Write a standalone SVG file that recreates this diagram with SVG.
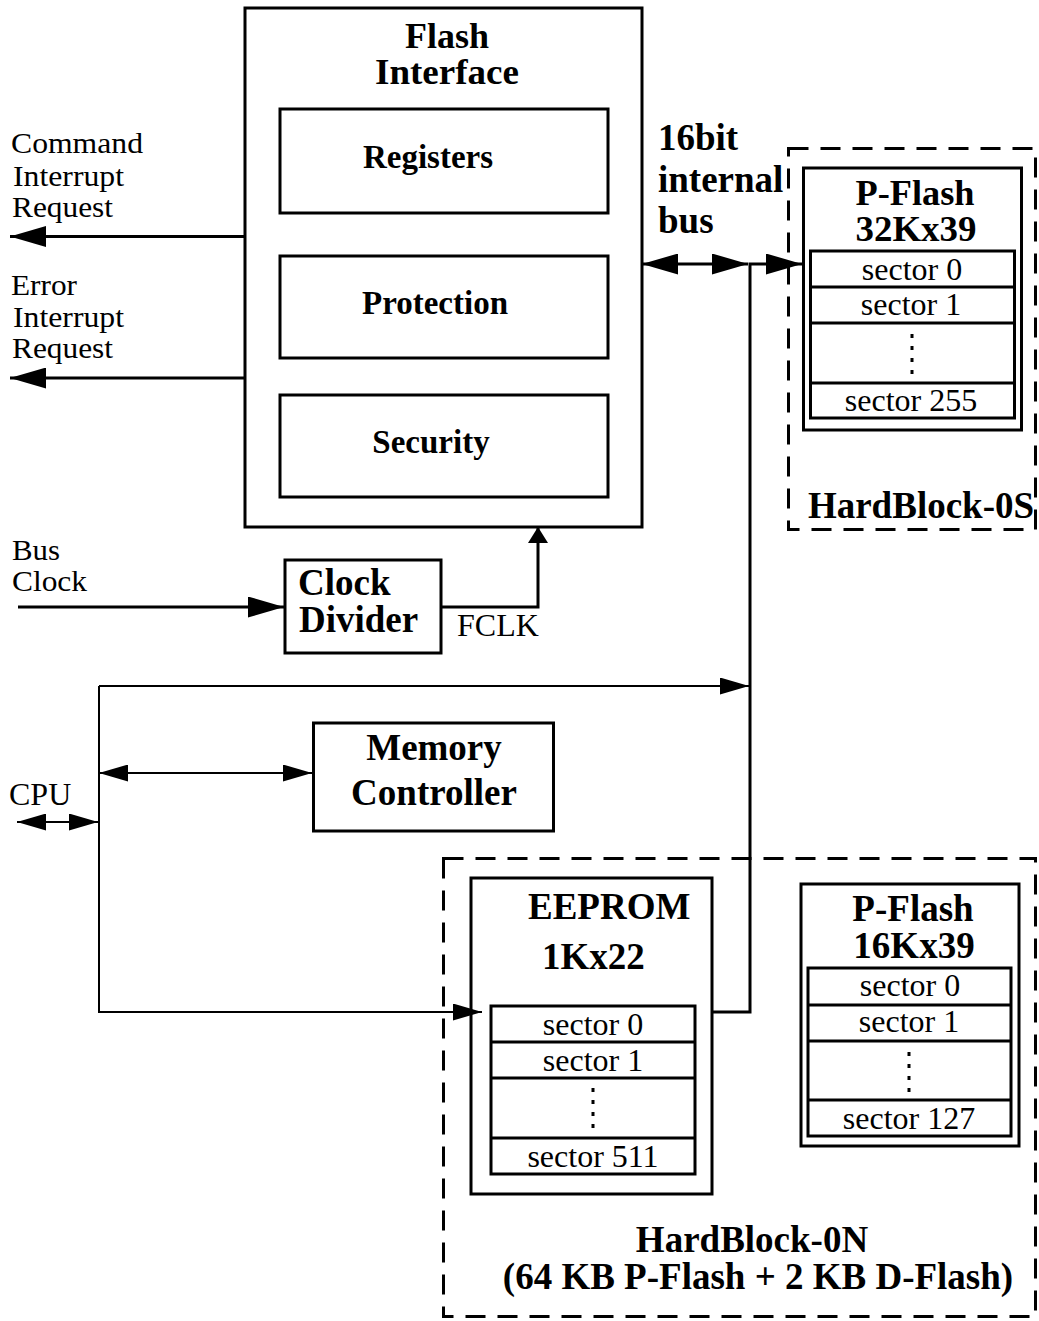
<svg xmlns="http://www.w3.org/2000/svg" width="1039" height="1321" viewBox="0 0 1039 1321">
<style>
  .box { fill: none; stroke: #000; stroke-width: 3; }
  .dash { fill: none; stroke: #000; stroke-width: 3; stroke-dasharray: 20 12; }
  .row { fill: none; stroke: #000; stroke-width: 3; }
  .dots { fill: none; stroke: #000; stroke-width: 3; stroke-dasharray: 4 8; }
  .w3 { fill: none; stroke: #000; stroke-width: 3; }
  .w2 { fill: none; stroke: #000; stroke-width: 2; }
  text { font-family: "Liberation Serif", "Times New Roman", serif; fill: #000; }
  .t { font-size: 37px; font-weight: bold; }
  .tc { font-size: 35px; font-weight: bold; }
  .s { font-size: 33px; font-weight: bold; }
  .r { font-size: 32px; }
  .l { font-size: 30px; }
  .c { text-anchor: middle; }
</style>
<defs>
  <marker id="big" markerUnits="userSpaceOnUse" markerWidth="36" markerHeight="21" refX="36" refY="10.5" orient="auto-start-reverse">
    <path d="M0,0 L36,10.5 L0,21 Z" fill="#000"/>
  </marker>
  <marker id="small" markerUnits="userSpaceOnUse" markerWidth="29" markerHeight="17" refX="29" refY="8.5" orient="auto-start-reverse">
    <path d="M0,0 L29,8.5 L0,17 Z" fill="#000"/>
  </marker>
  <marker id="tiny" markerUnits="userSpaceOnUse" markerWidth="16" markerHeight="20" refX="16" refY="10" orient="auto-start-reverse">
    <path d="M0,0 L16,10 L0,20 Z" fill="#000"/>
  </marker>
</defs>

<g id="hardblock-0s">
  <rect class="dash" x="788.5" y="148.5" width="247" height="381"/>
  <text class="t c" x="921" y="518">HardBlock-0S</text>
</g>

<g id="hardblock-0n">
  <rect class="dash" x="443.5" y="858.5" width="592" height="458"/>
  <text class="t c" x="752" y="1252">HardBlock-0N</text>
  <text class="t c" x="758" y="1289">(64 KB P-Flash + 2 KB D-Flash)</text>
</g>

<g id="flash-interface">
  <rect class="box" x="245" y="8" width="397" height="519"/>
  <text class="tc c" x="447" y="48" textLength="84" lengthAdjust="spacingAndGlyphs">Flash</text>
  <text class="tc c" x="447" y="84" textLength="144" lengthAdjust="spacingAndGlyphs">Interface</text>
</g>

<g id="registers">
  <rect class="box" x="280" y="109" width="328" height="104"/>
  <text class="s c" x="428" y="168">Registers</text>
</g>

<g id="protection">
  <rect class="box" x="280" y="256" width="328" height="102"/>
  <text class="s c" x="435" y="314">Protection</text>
</g>

<g id="security">
  <rect class="box" x="280" y="395" width="328" height="102"/>
  <text class="s c" x="431" y="453">Security</text>
</g>

<g id="clock-divider">
  <rect class="box" x="285" y="560" width="156" height="93"/>
  <text class="t" x="298" y="595">Clock</text>
  <text class="t" x="299" y="632">Divider</text>
</g>

<g id="memory-controller">
  <rect class="box" x="313.5" y="723" width="240" height="108"/>
  <text class="t c" x="434" y="760">Memory</text>
  <text class="t c" x="434" y="805">Controller</text>
</g>

<g id="pflash-32k">
  <rect class="box" x="803.5" y="168" width="218" height="262"/>
  <text class="tc c" x="915" y="205" textLength="119" lengthAdjust="spacingAndGlyphs">P-Flash</text>
  <text class="tc c" x="916" y="241" textLength="121" lengthAdjust="spacingAndGlyphs">32Kx39</text>
  <rect class="box" x="810.5" y="251" width="204" height="167"/>
  <path class="row" d="M810.5,287 H1014.5 M810.5,323 H1014.5 M810.5,383 H1014.5"/>
  <text class="r c" x="912" y="280">sector 0</text>
  <text class="r c" x="911" y="315">sector 1</text>
  <path class="dots" d="M912,334 V374"/>
  <text class="r c" x="911" y="411">sector 255</text>
</g>

<g id="eeprom">
  <rect class="box" x="471" y="878" width="241" height="316"/>
  <text class="t" x="528" y="919">EEPROM</text>
  <text class="t" x="542" y="969">1Kx22</text>
  <rect class="box" x="491" y="1006" width="204" height="168"/>
  <path class="row" d="M491,1042 H695 M491,1078 H695 M491,1138 H695"/>
  <text class="r c" x="593" y="1035">sector 0</text>
  <text class="r c" x="593" y="1071">sector 1</text>
  <path class="dots" d="M593,1088 V1128"/>
  <text class="r c" x="593" y="1167">sector 511</text>
</g>

<g id="pflash-16k">
  <rect class="box" x="801" y="884" width="218" height="262"/>
  <text class="t c" x="913" y="921">P-Flash</text>
  <text class="t c" x="914" y="958">16Kx39</text>
  <rect class="box" x="808" y="968" width="203" height="168"/>
  <path class="row" d="M808,1005 H1011 M808,1041 H1011 M808,1100 H1011"/>
  <text class="r c" x="910" y="996">sector 0</text>
  <text class="r c" x="909" y="1032">sector 1</text>
  <path class="dots" d="M909,1052 V1092"/>
  <text class="r c" x="909" y="1129">sector 127</text>
</g>

<g id="labels">
  <text class="l" x="11" y="153" textLength="132" lengthAdjust="spacingAndGlyphs">Command</text>
  <text class="l" x="13" y="186" textLength="111" lengthAdjust="spacingAndGlyphs">Interrupt</text>
  <text class="l" x="12" y="217" textLength="101" lengthAdjust="spacingAndGlyphs">Request</text>
  <text class="l" x="11" y="295" textLength="66" lengthAdjust="spacingAndGlyphs">Error</text>
  <text class="l" x="13" y="327" textLength="111" lengthAdjust="spacingAndGlyphs">Interrupt</text>
  <text class="l" x="12" y="358" textLength="101" lengthAdjust="spacingAndGlyphs">Request</text>
  <text class="t" x="658" y="150">16bit</text>
  <text class="t" x="658" y="192">internal</text>
  <text class="t" x="658" y="233">bus</text>
  <text class="l" x="12" y="560" textLength="48" lengthAdjust="spacingAndGlyphs">Bus</text>
  <text class="l" x="12" y="591" textLength="75" lengthAdjust="spacingAndGlyphs">Clock</text>
  <text class="r" x="457" y="636">FCLK</text>
  <text class="r" x="9" y="805">CPU</text>
</g>

<g id="connectors">
  <path class="w3" d="M245,236.5 H10" marker-end="url(#big)"/>
  <path class="w3" d="M245,378 H10" marker-end="url(#big)"/>
  <path class="w3" d="M642,264 H748" marker-start="url(#big)" marker-end="url(#big)"/>
  <path class="w3" d="M713,1012 H750 V264 H802" marker-end="url(#big)"/>
  <path class="w3" d="M18,607 H284" marker-end="url(#big)"/>
  <path class="w3" d="M441,607 H538 V527" marker-end="url(#tiny)"/>
  <path class="w2" d="M99,686 H749" marker-end="url(#small)"/>
  <path class="w2" d="M99,686 V1012 H482" marker-end="url(#small)"/>
  <path class="w2" d="M99,773 H312" marker-start="url(#small)" marker-end="url(#small)"/>
  <path class="w2" d="M17,822 H98" marker-start="url(#small)" marker-end="url(#small)"/>
</g>
</svg>
